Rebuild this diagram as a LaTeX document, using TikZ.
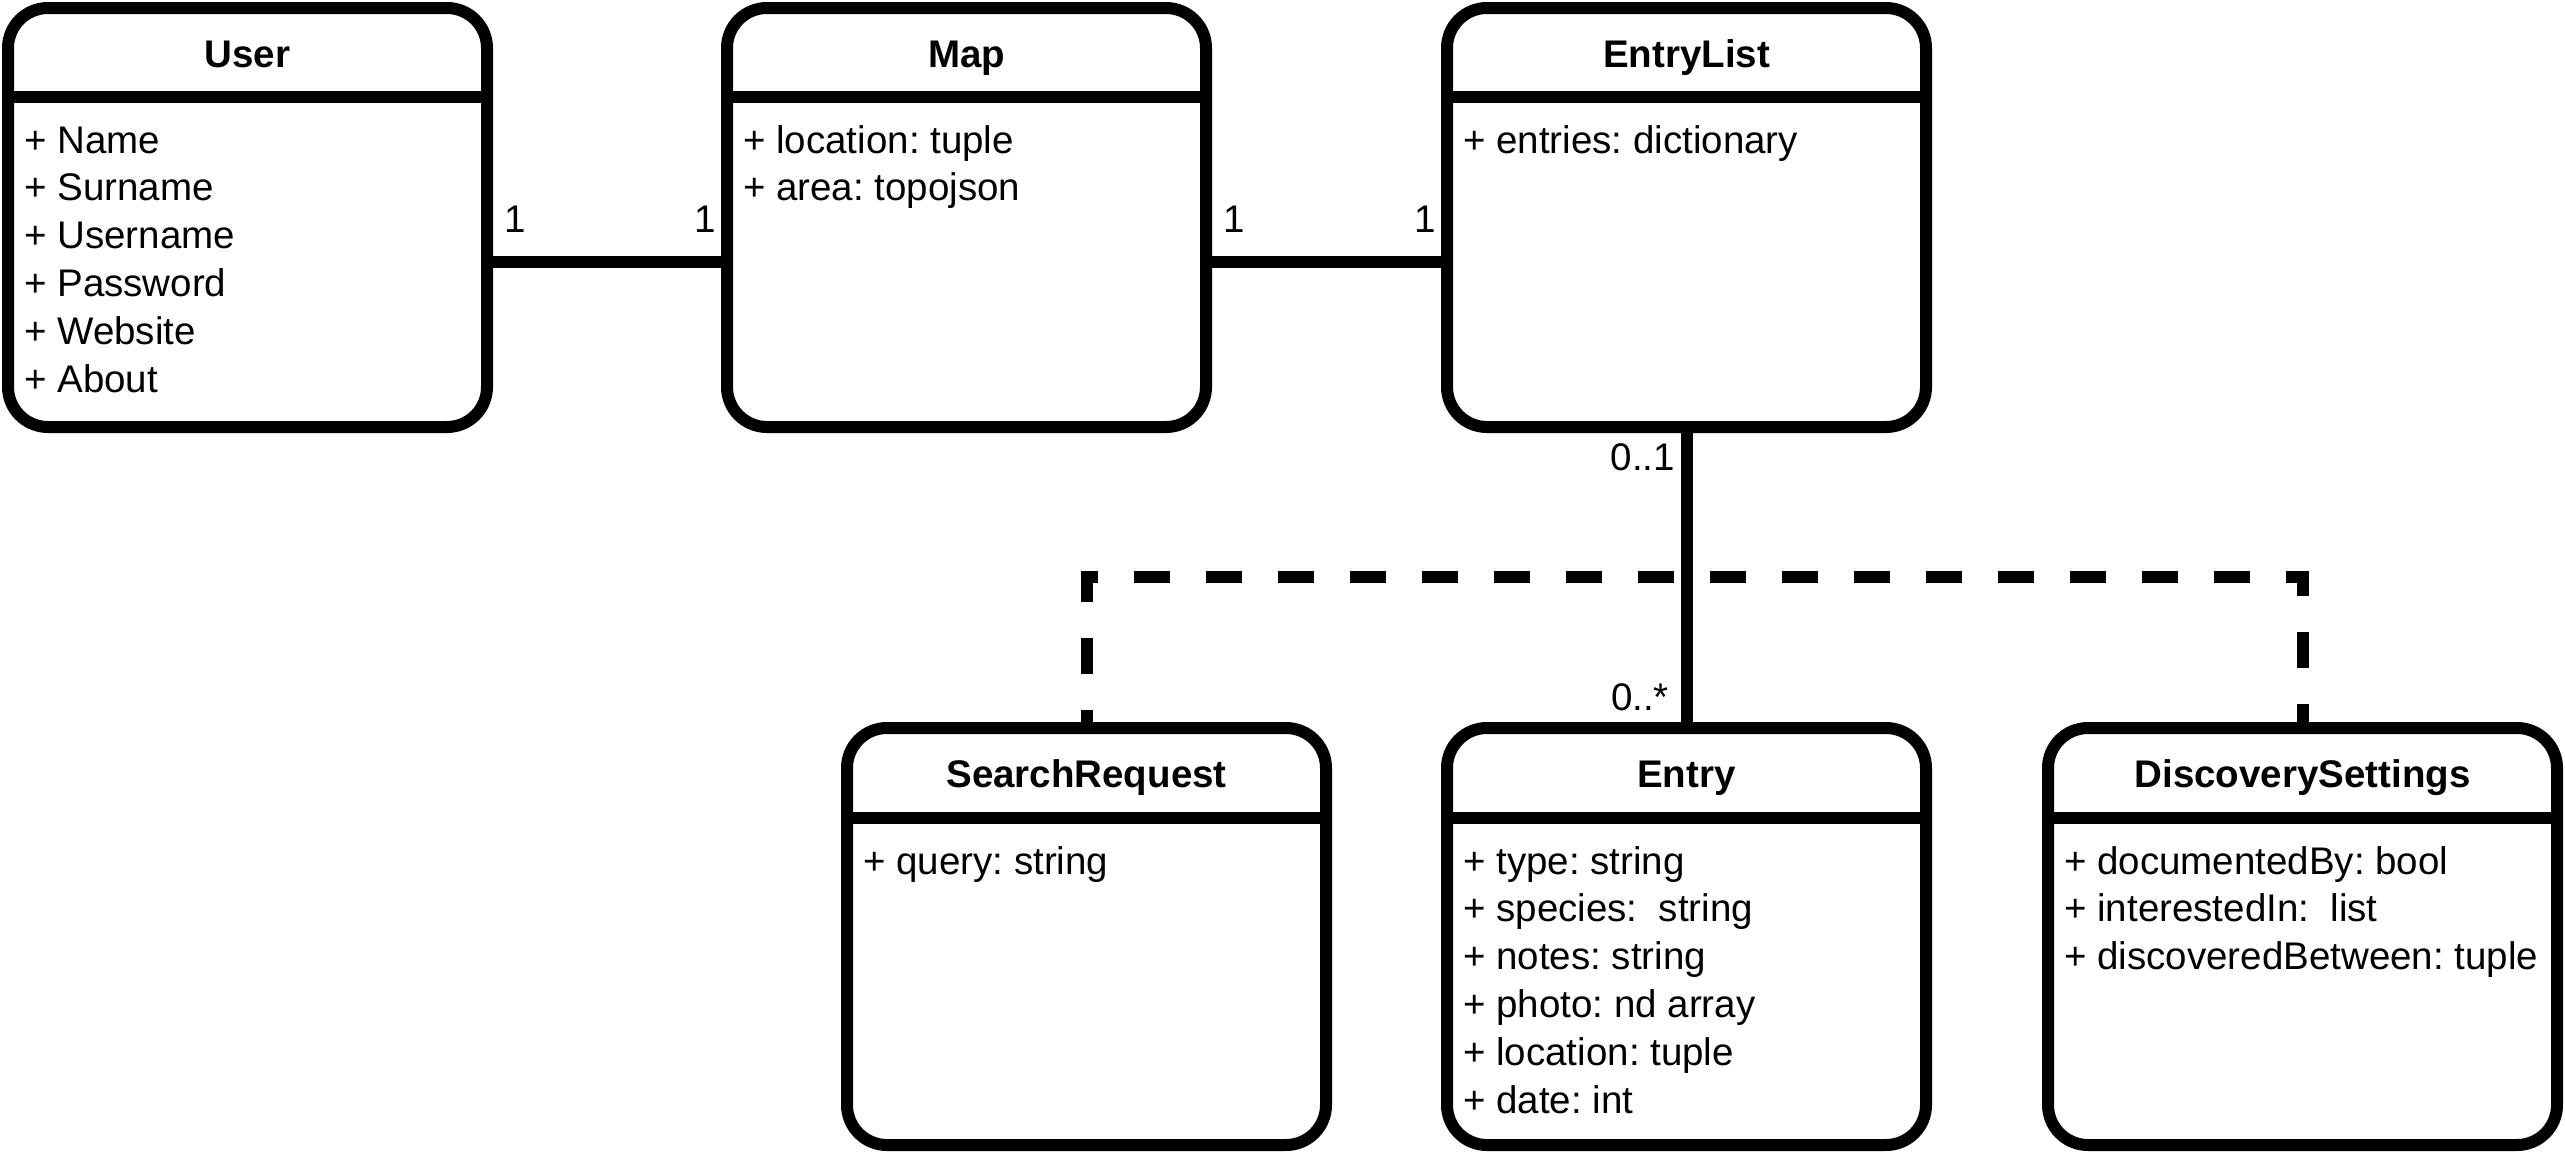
\documentclass[tikz,border=0pt]{standalone}
\usepackage{fontspec}
\setmainfont{Liberation Sans}
\frenchspacing
\begin{document}
\frenchspacing
\begin{tikzpicture}[x=1pt,y=-1pt,
  box/.style={draw, line width=12pt, rounded corners=40pt, outer sep=0pt, inner sep=0pt, minimum height=419pt},
  hline/.style={line width=12pt},
  conn/.style={line width=12pt},
  dep/.style={line width=12pt, dash pattern=on 36pt off 36pt, dash phase=18pt},
  title/.style={anchor=base, font=\fontsize{38.5}{46}\selectfont\bfseries\frenchspacing, inner sep=0pt},
  attr/.style={anchor=base west, font=\fontsize{38.5}{46}\selectfont\frenchspacing, inner sep=0pt},
  mult/.style={font=\fontsize{38.5}{46}\selectfont, inner sep=0pt}]
\useasboundingbox (0,0) rectangle (2565,1152);
\fill[white] (0,0) rectangle (2565,1152);
% boxes
\node[box, minimum width=479pt] (user) at (247.5,217.5) {};
\node[box, minimum width=479pt] (map) at (966.5,217.5) {};
\node[box, minimum width=479pt] (elist) at (1686.5,217.5) {};
\node[box, minimum width=479pt, minimum height=417pt] (sreq) at (1086.5,936.5) {};
\node[box, minimum width=479pt, minimum height=417pt] (entry) at (1686.5,936.5) {};
\node[box, minimum width=509pt, minimum height=417pt] (disc) at (2302.5,936.5) {};
% header separators
\foreach \b in {user,map,elist}
  \draw[hline] ([yshift=-89pt]\b.north west) -- ([yshift=-89pt]\b.north east);
\foreach \b in {sreq,entry,disc}
  \draw[hline] ([yshift=-90pt]\b.north west) -- ([yshift=-90pt]\b.north east);
% titles
\node[title] (usert) at ([yshift=-59pt]user.north) {User};
\node[title] (mapt) at ([yshift=-59pt]map.north) {Map};
\node[title] (elistt) at ([yshift=-59pt]elist.north) {EntryList};
\node[title] (sreqt) at ([yshift=-59pt]sreq.north) {SearchRequest};
\node[title] (entryt) at ([yshift=-59pt]entry.north) {Entry};
\node[title] (disct) at ([yshift=-59pt]disc.north) {DiscoverySettings};
% attributes
\foreach \t [count=\i from 0] in {Name,Surname,Username,Password,Website,About}
  \node[attr] (u\i) at (24,153+47.8*\i) {+ \t};
\node[attr] (m0) at (743,153) {+ location: tuple};
\node[attr] (m1) at (743,200.8) {+ area: topojson};
\node[attr] (el0) at (1463,153) {+ entries: dictionary};
\node[attr] (s0) at (863,874) {+ query: string};
\foreach \t [count=\i from 0] in {type: string,species:\ \ string,notes: string,photo: nd array,location: tuple,date: int}
  \node[attr] (e\i) at (1463,874+47.8*\i) {+ \t};
\node[attr] (d0) at (2064,874) {+ documentedBy: bool};
\node[attr] (d1) at (2064,921.8) {+ interestedIn:\ \ list};
\node[attr] (d2) at (2064,969.6) {+ discoveredBetween: tuple};
% multiplicities
\node[mult, anchor=base west] (ml1) at (504,232) {1};
\node[mult, anchor=base west] (ml2) at (694,232) {1};
\node[mult, anchor=base west] (ml3) at (1223,232) {1};
\node[mult, anchor=base west] (ml4) at (1414,232) {1};
\node[mult, anchor=base east] (ml5) at (1675,470) {0..1};
\node[mult, anchor=base east] (ml6) at (1669,710) {0..*};
% connectors
\draw[conn] ([yshift=-44.5pt]user.east) -- ([yshift=-44.5pt]map.west);
\draw[conn] ([yshift=-44.5pt]map.east) -- ([yshift=-44.5pt]elist.west);
\draw[dep] (sreq.north) -- ++(0,-151) -| (disc.north);
\draw[conn] (elist.south) -- (entry.north);
\end{tikzpicture}
\end{document}
